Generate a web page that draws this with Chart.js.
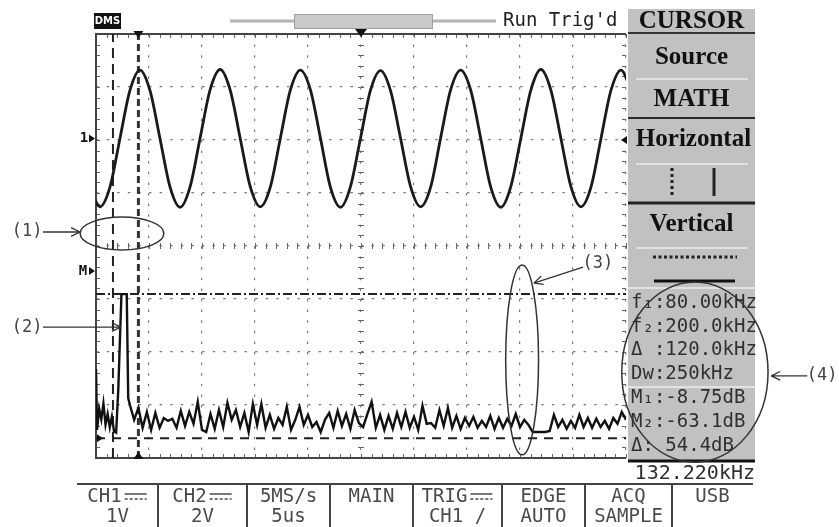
<!DOCTYPE html>
<html><head><meta charset="utf-8">
<script src="https://cdn.jsdelivr.net/npm/chart.js@4.4.1/dist/chart.umd.min.js"></script>
<style>html,body{margin:0;padding:0;background:#fff;overflow:hidden}canvas{display:block}</style>
</head><body>
<canvas id="c" width="839" height="527" style="width:839px;height:527px"></canvas>
<script>
// ---------------- data ----------------
const divisionsX = 10, divisionsY = 8;
const timePerDivUs = 5;          // 5us/div
const ch1VoltsPerDiv = 1;        // CH1 1V/div
const ch1GroundDiv = 2.03;       // CH1 ground marker position (div above centre)
const fftKHzPerDiv = 250;        // D: 250kHz/div
const fftDbPerDiv = 20;
const mathRefDiv = -0.47;        // MATH 0 dB marker position (div below centre)

// CH1 sine trace samples (1/8 period apart)
const ch1StartUs = -0.575, ch1StepUs = 0.9454;
const ch1Volts = [
  -0.91,-1.29,-0.92,0.00,0.91,1.29,0.90,-0.01,
  -0.92,-1.30,-0.91,0.01,0.92,1.30,0.91,0.00,
  -0.91,-1.29,-0.92,0.00,0.91,1.29,0.92,0.01,
  -0.92,-1.30,-0.91,0.00,0.91,1.28,0.90,0.00,
  -0.91,-1.29,-0.92,0.01,0.92,1.29,0.91,0.00,
  -0.92,-1.30,-0.91,0.00,0.91,1.30,0.91,0.00,
  -0.91,-1.29,-0.92,0.00,0.91,1.29,0.91
];

// MATH (FFT) trace: low-frequency region incl. main peak
const fftLowKHz = [0, 5, 15, 25, 35, 45, 55, 65, 75, 85, 95, 105, 120, 145, 152];
const fftLowDb  = [-37, -60, -52, -56, -50, -58, -54, -59, -55, -60.5, -61, -45, -8.75, -8.75, -48];
// MATH noise floor
const noiseStartKHz = 160, noiseStepKHz = 20;
const noiseDb = [
  -50.6,-56.2,-51.7,-59.2,-53.2,-60.0,-53.6,-59.2,-55.5,-56.6,
  -55.8,-59.2,-52.8,-58.5,-53.2,-57.7,-49.4,-60.0,-60.8,-54.0,
  -59.6,-52.5,-58.9,-49.8,-56.2,-52.5,-58.9,-53.6,-60.8,-50.2,
  -58.1,-50.2,-59.2,-54.3,-59.6,-55.5,-58.1,-51.3,-60.0,-56.2,
  -51.3,-58.1,-54.3,-58.9,-57.0,-60.8,-56.2,-53.6,-59.2,-52.8,
  -58.5,-54.0,-59.6,-52.5,-57.4,-58.9,-54.0,-49.4,-59.2,-54.3,
  -60.0,-54.7,-59.6,-53.6,-58.9,-53.2,-59.2,-55.1,-60.0,-50.9,
  -57.7,-57.4,-59.2,-52.5,-58.5,-51.7,-59.2,-54.7,-59.6,-55.5,
  -58.5,-55.1,-59.2,-56.6,-58.9,-54.7,-59.6,-55.5,-59.2,-55.8,
  -58.5,-54.0,-58.9,-56.2,-58.1,-60.8,-60.8,-60.8,-60.8,-60.4,
  -54.3,-58.9,-56.2,-59.6,-56.6,-59.2,-54.3,-58.9,-55.5,-59.2,
  -55.8,-58.9,-56.6,-59.6,-55.5,-57.7,-53.2,-56.2
];

// cursors
const cursorFreqKHz = [80, 200];
const cursorLevelDb = [-8.75, -63.1];

// texts
const readouts = ['f\u2081:80.00kHz','f\u2082:200.0kHz','\u0394 :120.0kHz','Dw:250kHz','M\u2081:-8.75dB','M\u2082:-63.1dB','\u0394: 54.4dB'];
const freqReadout = '132.220kHz';
const panelTitle = 'CURSOR';
const panelItems = ['Source','MATH','Horizontal','Vertical'];
const menuTop = ['CH1','CH2','5MS/s','MAIN','TRIG','EDGE','ACQ','USB'];
const menuBottom = ['1V','2V','5us','','CH1 /','AUTO','SAMPLE',''];
const menuDc = [true,true,false,false,true,false,false,false];
const statusText = "Run Trig'd";
const callouts = ['(1)','(2)','(3)','(4)'];

// ---------------- build ----------------
const tMax = divisionsX * timePerDivUs;
const vMin = (-divisionsY/2 - ch1GroundDiv) * ch1VoltsPerDiv;
const vMax = (divisionsY/2 - ch1GroundDiv) * ch1VoltsPerDiv;
const fMax = divisionsX * fftKHzPerDiv;
const dbMin = (-divisionsY/2 - mathRefDiv) * fftDbPerDiv;
const dbMax = (divisionsY/2 - mathRefDiv) * fftDbPerDiv;

const ch1Data = ch1Volts.map((v, i) => ({x: ch1StartUs + i*ch1StepUs, y: v}));
const fftData = fftLowKHz.map((f, i) => ({x: f, y: fftLowDb[i]}))
  .concat(noiseDb.map((d, i) => ({x: noiseStartKHz + i*noiseStepKHz, y: d})));

const hidden = (axis, pos, min, max) => ({type:'linear', axis, position:pos, min, max, display:false});

const ink = '#1a1a1a';
function arrowHead(ctx, x1, y1, x2, y2, len) {
  const a = Math.atan2(y2-y1, x2-x1);
  ctx.moveTo(x2, y2); ctx.lineTo(x2 - len*Math.cos(a-0.45), y2 - len*Math.sin(a-0.45));
  ctx.moveTo(x2, y2); ctx.lineTo(x2 - len*Math.cos(a+0.45), y2 - len*Math.sin(a+0.45));
}
function tri(ctx, pts) { ctx.beginPath(); ctx.moveTo(pts[0],pts[1]); ctx.lineTo(pts[2],pts[3]); ctx.lineTo(pts[4],pts[5]); ctx.closePath(); ctx.fill(); }

// annotation geometry in screen divisions
const annEllipses = [
  {cx:0.49, cy:0.236, rx:0.79, ry:0.31},
  {cx:8.04, cy:-2.15, rx:0.31, ry:1.79},
  {cx:11.30, cy:-2.38, rx:1.38, ry:1.70}
];
const annArrows = [
  [-1.0, 0.264, -0.30, 0.264],
  [-1.0, -1.53, 0.47, -1.53],
  [9.19, -0.40, 8.26, -0.70],
  [13.42, -2.45, 12.74, -2.45]
];
const annLabels = [[-1.30, 0.264], [-1.30, -1.53], [9.47, -0.34], [13.70, -2.45]];

const scopePlugin = {
  id: 'scope',
  beforeDatasetsDraw(chart) {
    const {ctx, chartArea: a, scales: {gx, gy}} = chart;
    ctx.save();
    ctx.strokeStyle = '#666'; ctx.lineWidth = 1;
    const cx = gx.getPixelForValue(divisionsX/2), cy = gy.getPixelForValue(0);
    ctx.beginPath();
    for (let i = 0; i <= divisionsX*5; i++) {
      const x = Math.round(gx.getPixelForValue(i/5)) + 0.5;
      ctx.moveTo(x, cy-3); ctx.lineTo(x, cy+3);
      ctx.moveTo(x, a.top); ctx.lineTo(x, a.top+4);
      ctx.moveTo(x, a.bottom); ctx.lineTo(x, a.bottom-4);
    }
    for (let j = 0; j <= divisionsY*5; j++) {
      const y = Math.round(gy.getPixelForValue(-divisionsY/2 + j/5)) + 0.5;
      ctx.moveTo(cx-3, y); ctx.lineTo(cx+3, y);
      ctx.moveTo(a.left, y); ctx.lineTo(a.left+4, y);
      ctx.moveTo(a.right, y); ctx.lineTo(a.right-4, y);
    }
    ctx.stroke();
    ctx.strokeStyle = '#444'; ctx.lineWidth = 2;
    ctx.beginPath();
    ctx.moveTo(a.right, a.top); ctx.lineTo(a.left, a.top); ctx.lineTo(a.left, a.bottom); ctx.lineTo(a.right, a.bottom);
    ctx.stroke();
    ctx.restore();
  },
  afterDraw(chart) {
    const {ctx, chartArea: a, scales: {gx, gy, t, v, f, db}} = chart;
    ctx.save();
    ctx.textBaseline = 'middle';
    // ---- top bar ----
    ctx.fillStyle = '#111'; ctx.fillRect(94, 13, 27, 16);
    ctx.fillStyle = '#fff'; ctx.font = 'bold 10px "DejaVu Sans"'; ctx.textAlign = 'center';
    ctx.fillText('DMS', 107.5, 21.5);
    ctx.strokeStyle = '#b4b4b4'; ctx.lineWidth = 3;
    ctx.beginPath(); ctx.moveTo(230, 21); ctx.lineTo(496, 21); ctx.stroke();
    ctx.fillStyle = '#cacaca'; ctx.fillRect(294, 14, 138, 14);
    ctx.strokeStyle = '#a0a0a0'; ctx.lineWidth = 1; ctx.strokeRect(294.5, 14.5, 138, 14);
    ctx.fillStyle = '#222'; ctx.font = '19px "DejaVu Sans Mono"'; ctx.textAlign = 'left';
    ctx.fillText(statusText, 503, 21);
    // markers
    ctx.fillStyle = '#111';
    const trigX = t.getPixelForValue(tMax/2);
    tri(ctx, [trigX-6, a.top-5, trigX+6, a.top-5, trigX, a.top+3]);
    const c2x = f.getPixelForValue(cursorFreqKHz[1]);
    tri(ctx, [c2x-5, a.top-3, c2x+5, a.top-3, c2x, a.top+4]);
    tri(ctx, [c2x-5, a.bottom+1, c2x+5, a.bottom+1, c2x, a.bottom-6]);
    const g1 = v.getPixelForValue(0);
    ctx.font = 'bold 14px "DejaVu Sans Mono"'; ctx.textAlign = 'center';
    ctx.fillText('1', 84, g1);
    tri(ctx, [89, g1-4, 89, g1+4, 95, g1]);
    const m0 = db.getPixelForValue(0);
    ctx.fillText('M', 83, m0);
    tri(ctx, [89, m0-4, 89, m0+4, 95, m0]);
    const m2 = db.getPixelForValue(cursorLevelDb[1]);
    tri(ctx, [a.left+1, m2-4, a.left+1, m2+4, a.left+7, m2]);

    // ---- right panel ----
    const pl = 628, pr = 755, pc = (pl+pr)/2;
    ctx.fillStyle = '#c1c1c1'; ctx.fillRect(pl, 9, pr-pl, 452);
    const hline = (y, w, col, x1 = pl, x2 = pr, dash = []) => {
      ctx.strokeStyle = col; ctx.lineWidth = w; ctx.setLineDash(dash);
      ctx.beginPath(); ctx.moveTo(x1, y); ctx.lineTo(x2, y); ctx.stroke(); ctx.setLineDash([]);
    };
    hline(33, 2, '#333');
    hline(79, 1.5, '#ededed', 636, 748);
    hline(118, 2, '#2a2a2a');
    hline(164, 1.5, '#ededed', 636, 748);
    hline(203, 3, '#222');
    hline(248, 1.5, '#ededed', 636, 748);
    hline(257, 3, '#222', 653, 737, [3, 2.5]);
    hline(281, 3, '#111', 654, 735);
    hline(288, 1.5, '#ededed');
    hline(387, 1.5, '#ededed');
    hline(461, 3, '#111');
    ctx.strokeStyle = '#222'; ctx.lineWidth = 3;
    ctx.setLineDash([3, 3]);
    ctx.beginPath(); ctx.moveTo(672, 168); ctx.lineTo(672, 196); ctx.stroke();
    ctx.setLineDash([]);
    ctx.beginPath(); ctx.moveTo(714, 168); ctx.lineTo(714, 196); ctx.stroke();
    ctx.fillStyle = '#111'; ctx.font = 'bold 25px "Liberation Serif"'; ctx.textAlign = 'center';
    ctx.fillText(panelTitle, pc, 22);
    const itemY = [58, 100, 140, 225];
    panelItems.forEach((s, i) => ctx.fillText(s, pc + (i === 2 ? 2 : 0), itemY[i]));
    tri(ctx, [627, 136, 627, 144, 621, 140]);
    ctx.fillStyle = '#303030'; ctx.font = '19px "DejaVu Sans Mono"'; ctx.textAlign = 'left';
    const ry = [303, 327, 350, 374, 398, 422, 446];
    readouts.forEach((s, i) => ctx.fillText(s, 631, ry[i]));
    ctx.font = '20px "DejaVu Sans Mono"'; ctx.textAlign = 'right';
    ctx.fillText(freqReadout, 755, 474);

    // ---- bottom menu ----
    const seps = [77, 158, 247, 330, 413, 502, 585, 672, 753];
    ctx.strokeStyle = '#444'; ctx.lineWidth = 2;
    ctx.beginPath(); ctx.moveTo(seps[0], 484); ctx.lineTo(seps[8], 484);
    for (let i = 1; i < seps.length-1; i++) { ctx.moveTo(seps[i], 484); ctx.lineTo(seps[i], 527); }
    ctx.stroke();
    ctx.fillStyle = '#4a4a4a'; ctx.font = '19px "DejaVu Sans Mono"'; ctx.textAlign = 'center';
    menuTop.forEach((s, i) => {
      const c = (seps[i] + seps[i+1]) / 2;
      if (menuDc[i]) {
        const w = ctx.measureText(s).width;
        const x0 = c - (w + 26)/2;
        ctx.textAlign = 'left'; ctx.fillText(s, x0, 497); ctx.textAlign = 'center';
        ctx.strokeStyle = '#4a4a4a'; ctx.lineWidth = 1.5;
        const sx = x0 + w + 3;
        ctx.beginPath(); ctx.moveTo(sx, 494); ctx.lineTo(sx+22, 494); ctx.stroke();
        ctx.setLineDash([3, 2]);
        ctx.beginPath(); ctx.moveTo(sx, 499); ctx.lineTo(sx+22, 499); ctx.stroke();
        ctx.setLineDash([]);
      } else {
        ctx.fillText(s, c, 497);
      }
      ctx.fillText(menuBottom[i], c, 517);
    });

    // ---- callouts ----
    ctx.strokeStyle = '#333'; ctx.lineWidth = 1.5;
    annEllipses.forEach(e => {
      const x = gx.getPixelForValue(e.cx), y = gy.getPixelForValue(e.cy);
      const rx = gx.getPixelForValue(e.cx + e.rx) - x, ryy = y - gy.getPixelForValue(e.cy + e.ry);
      ctx.beginPath(); ctx.ellipse(x, y, rx, ryy, 0, 0, Math.PI*2); ctx.stroke();
    });
    ctx.lineWidth = 1.3;
    annArrows.forEach(r => {
      const x1 = gx.getPixelForValue(r[0]), y1 = gy.getPixelForValue(r[1]);
      const x2 = gx.getPixelForValue(r[2]), y2 = gy.getPixelForValue(r[3]);
      ctx.beginPath(); ctx.moveTo(x1, y1); ctx.lineTo(x2, y2); arrowHead(ctx, x1, y1, x2, y2, 10); ctx.stroke();
    });
    ctx.fillStyle = '#444'; ctx.font = '17px "DejaVu Sans Mono"'; ctx.textAlign = 'center';
    annLabels.forEach((p, i) => ctx.fillText(callouts[i], gx.getPixelForValue(p[0]), gy.getPixelForValue(p[1])));
    ctx.restore();
  }
};

new Chart(document.getElementById('c'), {
  type: 'scatter',
  data: {
    datasets: [
      {label:'CH1', data: ch1Data, xAxisID:'t', yAxisID:'v', showLine:true, pointRadius:0,
       borderColor: ink, borderWidth: 2.8, cubicInterpolationMode:'monotone'},
      {label:'MATH FFT', data: fftData, xAxisID:'f', yAxisID:'db', showLine:true, pointRadius:0,
       borderColor: '#111', borderWidth: 2.4, tension: 0},
      {label:'f1', data:[{x:cursorFreqKHz[0], y:dbMin},{x:cursorFreqKHz[0], y:dbMax}], xAxisID:'f', yAxisID:'db',
       showLine:true, pointRadius:0, borderColor:'#222', borderWidth:2, borderDash:[10,6]},
      {label:'f2', data:[{x:cursorFreqKHz[1], y:dbMin},{x:cursorFreqKHz[1], y:dbMax}], xAxisID:'f', yAxisID:'db',
       showLine:true, pointRadius:0, borderColor:'#333', borderWidth:3, borderDash:[7,4]},
      {label:'M1', data:[{x:0, y:cursorLevelDb[0]},{x:fMax, y:cursorLevelDb[0]}], xAxisID:'f', yAxisID:'db',
       showLine:true, pointRadius:0, borderColor:'#222', borderWidth:2, borderDash:[9,3,2,3]},
      {label:'M2', data:[{x:0, y:cursorLevelDb[1]},{x:fMax, y:cursorLevelDb[1]}], xAxisID:'f', yAxisID:'db',
       showLine:true, pointRadius:0, borderColor:'#222', borderWidth:2, borderDash:[9,7]}
    ]
  },
  options: {
    responsive:false, animation:false,
    layout:{padding:{left:96, right:213, top:34, bottom:69}},
    plugins:{legend:{display:false}, tooltip:{enabled:false}},
    scales:{
      gx:{type:'linear', axis:'x', position:'bottom', min:0, max:divisionsX,
          ticks:{display:false, stepSize:1}, grid:{color:'#7a7a7a', lineWidth:1.2, drawTicks:false},
          border:{display:false, dash:[2.5,8.1]}},
      gy:{type:'linear', axis:'y', position:'left', min:-divisionsY/2, max:divisionsY/2,
          ticks:{display:false, stepSize:1}, grid:{color:'#7a7a7a', lineWidth:1.2, drawTicks:false},
          border:{display:false, dash:[2.5,8.1]}},
      t: hidden('x','bottom',0,tMax),
      v: hidden('y','left',vMin,vMax),
      f: hidden('x','bottom',0,fMax),
      db: hidden('y','left',dbMin,dbMax)
    }
  },
  plugins:[scopePlugin]
});
</script>
</body></html>
